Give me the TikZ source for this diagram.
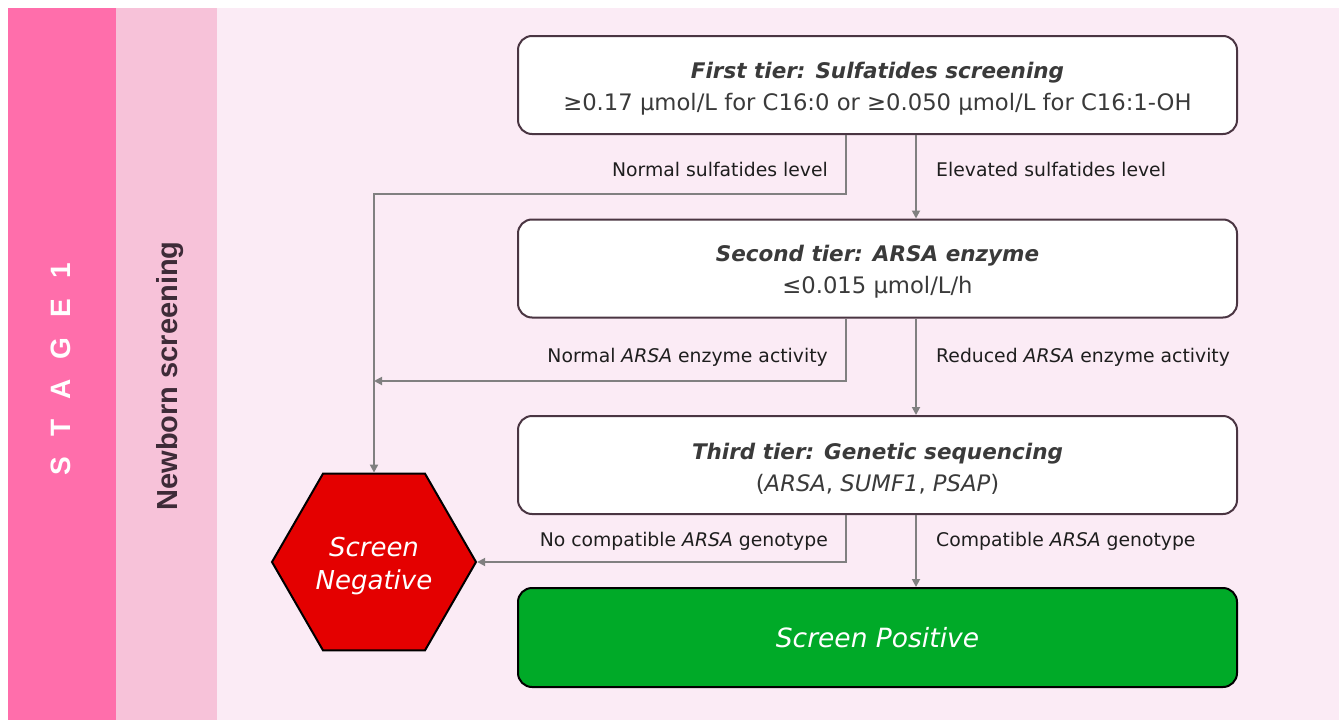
\documentclass[tikz,border=0pt]{standalone}
\usepackage{fontspec}
\setmainfont{DejaVu Sans}
\newfontfamily\arialfont{Liberation Sans}
\usetikzlibrary{shapes.geometric,arrows.meta}
\definecolor{bandA}{RGB}{255,110,171}
\definecolor{bandB}{RGB}{247,194,217}
\definecolor{bgmain}{RGB}{251,235,245}
\definecolor{boxborder}{RGB}{74,53,66}
\definecolor{conngray}{RGB}{128,128,128}
\definecolor{titlegray}{RGB}{58,58,58}
\definecolor{labelgray}{RGB}{30,30,30}
\definecolor{negred}{RGB}{228,0,0}
\definecolor{posgreen}{RGB}{0,170,40}
\definecolor{sidetext}{RGB}{62,43,56}
\tikzset{
  tierbox/.style={draw=boxborder, line width=2pt, rounded corners=14pt, fill=white,
    minimum width=719pt, minimum height=98pt, inner sep=0pt, align=center,
    text=titlegray, font=\fontsize{22.7}{32}\selectfont},
  conn/.style={draw=conngray, line width=1.8pt},
  arr/.style={conn, -{Triangle[length=8pt,width=8pt]}},
  lbl/.style={inner sep=0pt, text=labelgray, font=\fontsize{18.8}{22}\selectfont}
}
\newcommand{\tiertitle}[1]{\rule{0pt}{23pt}{\fontsize{21.5}{32}\selectfont\bfseries\itshape #1}}
\begin{document}
\begin{tikzpicture}[x=1pt,y=-1pt]
\useasboundingbox (0,0) rectangle (1339,720);
\fill[white] (0,0) rectangle (1339,720);
\fill[bandA] (8,8) rectangle (116,720);
\fill[bandB] (116,8) rectangle (217,720);
\fill[bgmain] (217,8) rectangle (1339,720);

\node[rotate=90, anchor=center, text=white, inner sep=0pt,
  font=\arialfont\bfseries\fontsize{28}{28}\selectfont] (stage) at (61,369)
  {S\hspace{20pt}T\hspace{20pt}A\hspace{20pt}G\hspace{20pt}E\hspace{20pt}1};
\node[rotate=90, anchor=base, text=sidetext, inner sep=0pt,
  font=\arialfont\bfseries\fontsize{29}{29}\selectfont] (nbs) at (177,376)
  {Newborn screening};

\node[tierbox] (b1) at (877.5,85)
  {\tiertitle{First tier: Sulfatides screening}\\
   ≥0.17 µmol/L for C16:0 or ≥0.050 µmol/L for C16:1-OH};
\node[tierbox] (b2) at (877.5,268.5)
  {\tiertitle{Second tier: ARSA enzyme}\\
   ≤0.015 µmol/L/h};
\node[tierbox] (b3) at (877.5,465)
  {\tiertitle{Third tier: Genetic sequencing}\\
   (\textit{ARSA}, \textit{SUMF1}, \textit{PSAP})};
\node[draw=black, line width=2pt, rounded corners=14pt, fill=posgreen,
  minimum width=719pt, minimum height=99pt, inner sep=0pt, text=white,
  font=\fontsize{26.5}{30}\selectfont\itshape] (pos) at (877.5,637.5) {Screen Positive};
\node[regular polygon, regular polygon sides=6, minimum size=204pt, inner sep=0pt,
  draw=black, line width=2pt, fill=negred, text=white, align=center,
  font=\fontsize{26}{33}\selectfont\itshape] (neg) at (374,562) {\rule{0pt}{27pt}Screen\\Negative};

\coordinate (trunk) at (374,194);
\coordinate (join) at (374,381);

\draw[arr] ([xshift=-31.5pt]b1.south) |- (trunk) -- (neg.north);
\draw[arr] ([xshift=38.5pt]b1.south) -- ([xshift=38.5pt]b2.north);
\draw[arr] ([xshift=-31.5pt]b2.south) |- (join);
\draw[arr] ([xshift=38.5pt]b2.south) -- ([xshift=38.5pt]b3.north);
\draw[arr] ([xshift=-31.5pt]b3.south) |- (neg.east);
\draw[arr] ([xshift=38.5pt]b3.south) -- ([xshift=38.5pt]pos.north);

\node[lbl, anchor=east] (l1) at (828,169) {Normal sulfatides level};
\node[lbl, anchor=west] (r1) at (936,169) {Elevated sulfatides level};
\node[lbl, anchor=east] (l2) at (828,357) {Normal \textit{ARSA} enzyme activity};
\node[lbl, anchor=west] (r2) at (936,357) {Reduced \textit{ARSA} enzyme activity};
\node[lbl, anchor=east] (l3) at (828,541) {No compatible \textit{ARSA} genotype};
\node[lbl, anchor=west] (r3) at (936,541) {Compatible \textit{ARSA} genotype};
\end{tikzpicture}
\end{document}
